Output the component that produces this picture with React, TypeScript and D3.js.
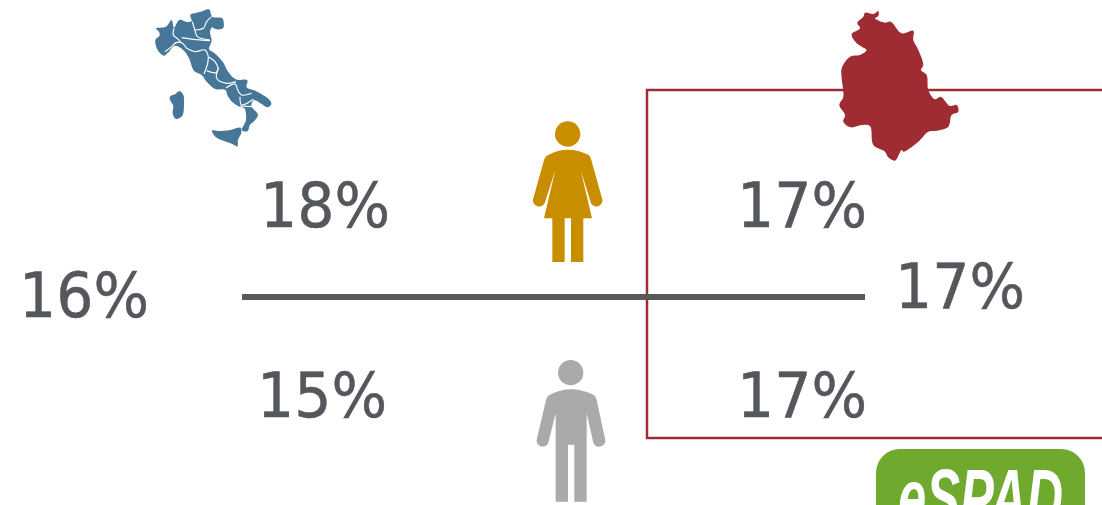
import React from "react";
import { line, curveCatmullRomClosed, curveCatmullRom, scaleLinear, scaleOrdinal } from "d3";

// values (percent)
const regions = ["Italia", "Umbria"];
const italyValues = [18, 16, 15]; // female, total, male
const umbriaValues = [17, 17, 17];

const width = 1102;
const height = 505;
const textColor = "#54575c";
const lineColor = "#58595b";
const red = "#a02c33";

// icon outlines, traced in zoomed pixels (3x)
const italyMain: [number, number][] = [[46,120],[58,108],[58,97],[48,85],[78,80],[95,60],[102,83],[118,60],[140,66],[155,63],[151,45],[180,36],[207,28],[217,50],[247,55],[249,85],[225,87],[217,82],[210,95],[215,122],[207,148],[222,158],[250,188],[263,213],[287,238],[322,241],[320,262],[347,273],[387,298],[394,313],[382,322],[365,312],[342,300],[334,318],[354,345],[342,364],[330,374],[322,394],[306,390],[318,360],[313,324],[298,320],[278,307],[263,287],[256,270],[226,267],[200,245],[185,225],[162,212],[147,175],[132,152],[105,137],[85,157],[72,167],[53,150]];
const sardinia: [number, number][] = [[90,290],[105,283],[118,273],[130,285],[132,315],[127,347],[108,357],[98,340],[100,318],[90,300]];
const sicily: [number, number][] = [[216,392],[235,393],[270,390],[302,383],[304,398],[294,420],[292,439],[272,430],[250,422],[228,412]];
const italyBorders: [number, number][][] = [
  [[102,85],[100,105],[112,115],[122,126]],
  [[75,155],[95,140],[108,128],[125,128],[140,145]],
  [[125,113],[160,118],[210,122]],
  [[140,145],[165,155],[195,150],[205,170]],
  [[205,170],[203,190],[192,222]],
  [[205,170],[225,185],[235,205]],
  [[200,212],[228,218],[235,205]],
  [[235,205],[230,235],[260,250],[288,245]],
  [[157,65],[165,92],[172,110],[210,120]],
  [[165,90],[190,85],[200,65],[215,50]],
  [[258,264],[285,252],[292,268]],
  [[292,268],[305,285],[335,280]],
  [[300,290],[305,315],[340,298]],
  [[300,318],[335,320]],
];
const umbria: [number, number][] = [[135,38],[160,42],[175,33],[175,48],[165,55],[195,68],[212,65],[245,100],[280,92],[280,120],[295,150],[310,195],[303,210],[320,225],[325,270],[345,298],[362,290],[390,318],[410,315],[415,335],[395,345],[385,380],[350,392],[325,395],[295,425],[250,455],[245,450],[225,482],[205,472],[195,455],[160,435],[150,378],[125,375],[92,382],[70,365],[75,345],[58,315],[70,290],[65,235],[65,205],[90,170],[120,165],[140,150],[125,140],[110,130],[95,103],[120,85],[112,68],[130,50]];

const womanPath = "M84 135 Q143 103 206 135 Q212 140 214 150 L245 262 A17 17 0 0 1 213 280 L182 180 L216 325 L190 325 L190 456 L153 456 L153 325 L134 325 L134 456 L97 456 L97 325 L72 325 L106 180 L74 280 A17 17 0 0 1 41 262 L72 150 Q74 140 84 135 Z";
const manPath = "M88 135 Q152 100 222 135 Q228 140 230 150 L255 265 A17 17 0 0 1 220 278 L200 190 L200 455 L163 455 L163 284 L144 284 L144 455 L107 455 L107 190 L85 278 A17 17 0 0 1 51 265 L78 150 Q80 140 88 135 Z";

const outline = line().curve(curveCatmullRomClosed.alpha(0.5));
const border = line().curve(curveCatmullRom.alpha(0.5));

// column x of the percent labels, by region
const labelX = scaleOrdinal<string, number>().domain(regions).range([260, 737]);
const totalX = scaleOrdinal<string, number>().domain(regions).range([19, 895]);
const rowY = scaleLinear().domain([0, 2]).range([227, 417]);

const labelWidth = 130;

function Pct({ x, y, v }: { x: number; y: number; v: number }) {
  return (
    <text x={x} y={y} textLength={labelWidth} lengthAdjust="spacingAndGlyphs">
      {`${v}%`}
    </text>
  );
}

function Labels({ region, values, totalY }: { region: string; values: number[]; totalY: number }) {
  const x = labelX(region);
  return (
    <g>
      <Pct x={x} y={rowY(0)} v={values[0]} />
      <Pct x={totalX(region)} y={totalY} v={values[1]} />
      <Pct x={region === "Italia" ? x - 3 : x} y={rowY(2)} v={values[2]} />
    </g>
  );
}

export default function App() {
  return (
    <svg
      width={width}
      height={height}
      style={{ position: "absolute", left: 0, top: 0, display: "block" }}
      fontFamily="'DejaVu Sans', sans-serif"
    >
      <rect x={647} y={90} width={470} height={348} fill="none" stroke={red} strokeWidth={2.5} />
      <line x1={242} x2={865} y1={297} y2={297} stroke={lineColor} strokeWidth={6} />

      <g transform="translate(140,0) scale(0.3333)">
        <path d={outline(italyMain) ?? ""} fill="#467798" />
        <path d={outline(sardinia) ?? ""} fill="#467798" />
        <path d={outline(sicily) ?? ""} fill="#467798" />
        {italyBorders.map((b, i) => (
          <path key={i} d={border(b) ?? ""} fill="none" stroke="#fff" strokeWidth={3.5} />
        ))}
      </g>

      <g transform="translate(820,0) scale(0.3333)">
        <path d={outline(umbria) ?? ""} fill={red} />
      </g>

      <g transform="translate(520,110) scale(0.3333)" fill="#c88e00">
        <circle cx={143} cy={72} r={38} />
        <path d={womanPath} />
      </g>
      <g transform="translate(520,350) scale(0.3333)" fill="#a9abaa">
        <circle cx={152} cy={68} r={38} />
        <path d={manPath} />
      </g>

      <g fontSize={63} fill={textColor} stroke={textColor} strokeWidth={0.5}>
        <Labels region="Italia" values={italyValues} totalY={317} />
        <Labels region="Umbria" values={umbriaValues} totalY={308} />
      </g>

      <rect x={876} y={449} width={209} height={90} rx={24} fill="#6fa92d" />
      <text
        x={898}
        y={525}
        fontSize={80}
        fontStyle="italic"
        fontWeight="bold"
        fontFamily="'Liberation Sans', sans-serif"
        fill="#fff"
        textLength={165}
        lengthAdjust="spacingAndGlyphs"
      >
        eSPAD
      </text>
    </svg>
  );
}
